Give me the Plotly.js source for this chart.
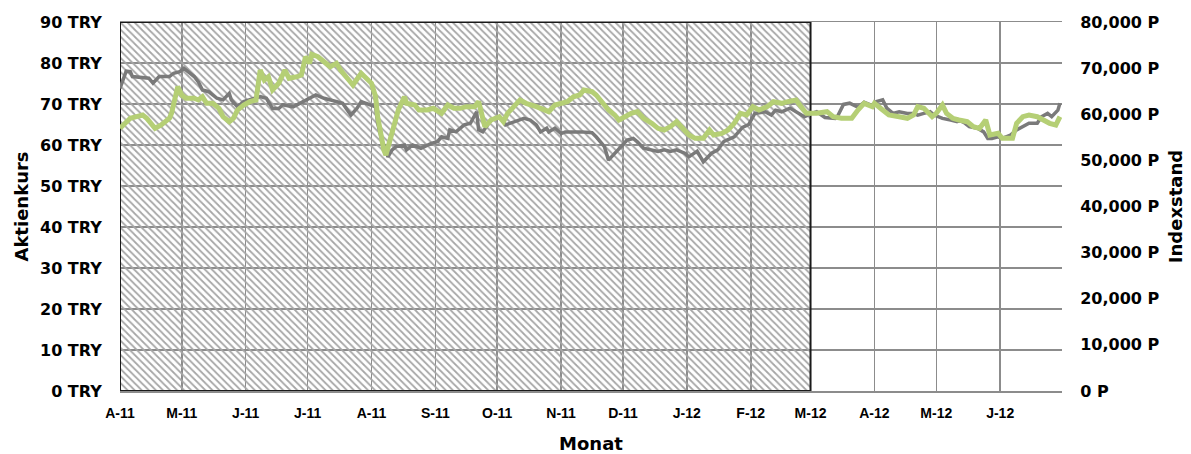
<!DOCTYPE html>
<html>
<head>
<meta charset="utf-8">
<script src="https://cdn.plot.ly/plotly-3.0.1.min.js"></script>
<style>html,body{margin:0;padding:0;background:#fff;}#chart{width:1191px;height:454px;}</style>
</head>
<body>
<div id="chart"></div>
<script>
// Month ticks and labels
const monthTicks = ['2011-04-01','2011-05-01','2011-06-01','2011-07-01','2011-08-01','2011-09-01','2011-10-01','2011-11-01','2011-12-01','2012-01-01','2012-02-01','2012-03-01','2012-04-01','2012-05-01','2012-06-01'];
const monthLabels = ['A-11','M-11','J-11','J-11','A-11','S-11','O-11','N-11','D-11','J-12','F-12','M-12','A-12','M-12','J-12'];

// Hatched period
const hatchStart = '2011-04-01';
const hatchEnd = '2012-03-01';

// Aktienkurs (TRY) - grey line, left axis
const kursDates = ['2011-04-01','2011-04-04','2011-04-06','2011-04-07','2011-04-15','2011-04-17','2011-04-20','2011-04-25','2011-04-27','2011-04-30',
'2011-05-02','2011-05-04','2011-05-07','2011-05-09','2011-05-11','2011-05-14','2011-05-16','2011-05-18','2011-05-21','2011-05-24','2011-05-25','2011-05-28','2011-05-31',
'2011-06-03','2011-06-08','2011-06-11','2011-06-14','2011-06-17','2011-06-19','2011-06-24','2011-06-29',
'2011-07-02','2011-07-05','2011-07-09','2011-07-12','2011-07-15','2011-07-18','2011-07-22','2011-07-25','2011-07-27',
'2011-08-01','2011-08-03','2011-08-04','2011-08-06','2011-08-08','2011-08-09','2011-08-11','2011-08-13','2011-08-17','2011-08-18','2011-08-21','2011-08-25','2011-08-30',
'2011-09-02','2011-09-04','2011-09-07','2011-09-08','2011-09-11','2011-09-15','2011-09-18','2011-09-21','2011-09-22','2011-09-24','2011-09-28',
'2011-10-02','2011-10-03','2011-10-05','2011-10-09','2011-10-14','2011-10-17','2011-10-20','2011-10-22','2011-10-25','2011-10-26','2011-10-29',
'2011-11-01','2011-11-03','2011-11-11','2011-11-16','2011-11-18','2011-11-22','2011-11-24','2011-11-27','2011-11-30',
'2011-12-03','2011-12-06','2011-12-08','2011-12-11','2011-12-15','2011-12-18','2011-12-21','2011-12-24','2011-12-27','2011-12-31',
'2012-01-02','2012-01-06','2012-01-09','2012-01-13','2012-01-16','2012-01-19','2012-01-24','2012-01-28','2012-01-31',
'2012-02-03','2012-02-08','2012-02-11','2012-02-13','2012-02-16','2012-02-20','2012-02-23','2012-02-27',
'2012-03-01','2012-03-04','2012-03-08','2012-03-13','2012-03-14','2012-03-17','2012-03-20','2012-03-24','2012-03-27','2012-03-31',
'2012-04-02','2012-04-05','2012-04-07','2012-04-10','2012-04-13','2012-04-17','2012-04-20','2012-04-22','2012-04-25','2012-04-28','2012-04-30',
'2012-05-04','2012-05-08','2012-05-11','2012-05-12','2012-05-15','2012-05-17','2012-05-21','2012-05-24','2012-05-26','2012-05-28','2012-05-31',
'2012-06-02','2012-06-06','2012-06-09','2012-06-12','2012-06-15','2012-06-19','2012-06-21','2012-06-24','2012-06-26','2012-06-29','2012-06-30'];
const kursValues = [73.8,78.0,77.9,76.7,76.3,75.1,76.7,76.7,77.5,77.9,
78.7,77.9,76.7,75.4,73.4,73.0,72.2,71.4,71.0,72.6,71.0,69.3,70.6,
71.0,71.8,71.4,68.9,68.9,69.8,69.3,70.6,
71.2,72.2,71.4,71.0,70.6,70.2,67.3,69.0,70.6,
69.8,69.3,65.3,61.2,58.8,57.1,58.8,59.6,60.0,58.8,60.0,59.2,60.4,
60.8,62.0,61.6,63.7,63.2,64.9,65.3,68.1,63.7,63.2,66.1,
66.9,66.5,64.9,65.7,66.5,66.1,64.9,63.2,64.1,63.2,64.1,
62.8,63.2,63.2,63.0,62.0,59.6,56.3,58.0,59.6,
61.2,61.6,60.8,59.2,58.8,58.4,58.8,58.4,58.8,58.0,
57.1,58.5,55.9,58.0,58.8,60.9,62.0,64.3,65.0,
67.7,68.1,67.3,68.5,68.1,69.0,68.1,66.9,
67.6,68.1,66.7,66.5,66.9,69.9,70.2,69.2,70.4,69.6,
70.6,71.0,69.0,67.7,68.1,67.7,67.7,67.3,67.7,68.1,67.3,
66.5,66.1,65.7,66.1,65.3,64.5,64.1,63.2,61.6,61.6,62.0,
61.6,62.4,63.7,64.5,65.3,65.3,66.9,67.7,66.9,68.5,70.2];

// Indexstand (P) - green line, right axis
const indexDates = ['2011-04-01','2011-04-06','2011-04-09','2011-04-12','2011-04-14','2011-04-18','2011-04-21','2011-04-25','2011-04-26','2011-04-29',
'2011-05-01','2011-05-03','2011-05-07','2011-05-09','2011-05-11','2011-05-13','2011-05-16','2011-05-19','2011-05-21','2011-05-24','2011-05-26','2011-05-28','2011-05-31',
'2011-06-03','2011-06-06','2011-06-08','2011-06-10','2011-06-12','2011-06-14','2011-06-17','2011-06-20','2011-06-22','2011-06-26','2011-06-28','2011-06-30',
'2011-07-02','2011-07-03','2011-07-06','2011-07-09','2011-07-12','2011-07-15','2011-07-17','2011-07-21','2011-07-23','2011-07-27','2011-07-29',
'2011-08-01','2011-08-03','2011-08-04','2011-08-07','2011-08-08','2011-08-10','2011-08-12','2011-08-14','2011-08-17','2011-08-18','2011-08-22','2011-08-24','2011-08-28','2011-08-31',
'2011-09-04','2011-09-07','2011-09-10','2011-09-13','2011-09-16','2011-09-20','2011-09-22','2011-09-25','2011-09-28',
'2011-10-02','2011-10-04','2011-10-06','2011-10-12','2011-10-15','2011-10-20','2011-10-24','2011-10-26','2011-10-29',
'2011-11-01','2011-11-04','2011-11-07','2011-11-10','2011-11-12','2011-11-16','2011-11-18','2011-11-22','2011-11-24','2011-11-27','2011-11-29',
'2011-12-02','2011-12-05','2011-12-08','2011-12-11','2011-12-15','2011-12-18','2011-12-21','2011-12-24','2011-12-27','2011-12-31',
'2012-01-02','2012-01-05','2012-01-09','2012-01-12','2012-01-14','2012-01-18','2012-01-21','2012-01-24','2012-01-27','2012-01-30',
'2012-02-02','2012-02-05','2012-02-09','2012-02-12','2012-02-16','2012-02-19','2012-02-23','2012-02-26','2012-02-28',
'2012-03-01','2012-03-04','2012-03-09','2012-03-12','2012-03-16','2012-03-21','2012-03-24','2012-03-27','2012-03-31',
'2012-04-01','2012-04-05','2012-04-08','2012-04-13','2012-04-17','2012-04-20','2012-04-22','2012-04-25','2012-04-29',
'2012-05-01','2012-05-04','2012-05-06','2012-05-09','2012-05-12','2012-05-16','2012-05-19','2012-05-22','2012-05-25','2012-05-27','2012-05-31',
'2012-06-02','2012-06-07','2012-06-09','2012-06-12','2012-06-15','2012-06-19','2012-06-22','2012-06-25','2012-06-28','2012-06-30'];
const indexValues = [56950,59120,59470,59840,59120,56950,57670,59120,60200,65970,
64170,63460,63460,63090,63800,62370,62370,61290,59470,58390,59120,60920,62000,
62720,63090,69590,67420,68140,65260,66710,69590,67790,68140,68510,72480,
71050,73000,72480,71390,70310,71050,69590,67420,66340,68880,68140,
66710,63800,59470,52250,51160,54420,58040,60920,63800,62370,62000,60920,60920,61290,
60200,62000,61290,61290,61640,61640,62720,57300,58750,
59470,58390,60200,63090,62370,61640,60920,60560,62000,
62370,62720,63800,64170,65260,64890,64170,62000,60920,59840,58750,
59470,60200,60560,59120,58040,56950,56590,57300,58390,56590,
55500,54780,54780,56590,55500,55860,56590,58040,60200,59840,
61640,60920,61640,62720,62370,62720,63090,61290,60200,
60200,60200,60560,59470,59120,59120,60920,62370,61640,
62370,60920,59840,59470,59120,59840,61640,61290,59470,
60200,62000,60200,59120,58750,58390,57300,56950,58750,55500,55860,
54780,54780,58040,59470,59840,59470,58750,58040,57670,59470];

const yTicksLeft = [0,10,20,30,40,50,60,70,80,90];

const gridColor = '#8c8c8c';
const fontFam = 'DejaVu Sans, Verdana, sans-serif';

const hatch = {
  x: [hatchStart, hatchEnd, hatchEnd, hatchStart, hatchStart],
  y: [yTicksLeft[0], yTicksLeft[0], yTicksLeft[yTicksLeft.length-1], yTicksLeft[yTicksLeft.length-1], yTicksLeft[0]],
  type: 'scatter', mode: 'lines', fill: 'toself',
  fillcolor: 'rgba(0,0,0,0)',
  fillpattern: {shape: '\\', fgcolor: '#a6a6a6', bgcolor: 'rgba(0,0,0,0)', size: 5, solidity: 0.35},
  line: {color: '#1a1a1a', width: 2},
  hoverinfo: 'skip', showlegend: false, cliponaxis: false
};

const indexTrace = {
  x: indexDates, y: indexValues, yaxis: 'y2', type: 'scatter', mode: 'lines',
  line: {color: '#b5cf75', width: 5}, name: 'Indexstand', showlegend: false
};
const kursTrace = {
  x: kursDates, y: kursValues, yaxis: 'y', type: 'scatter', mode: 'lines',
  line: {color: '#7a7a7a', width: 3.5}, name: 'Aktienkurs', showlegend: false
};

const layout = {
  width: 1191, height: 454,
  margin: {l: 120, r: 129, t: 22, b: 63},
  paper_bgcolor: '#fff', plot_bgcolor: '#fff',
  showlegend: false,
  xaxis: {
    type: 'date', range: ['2011-04-01', '2012-07-01'],
    tickmode: 'array', tickvals: monthTicks, ticktext: monthLabels,
    showgrid: true, gridcolor: gridColor, gridwidth: 1.5,
    showline: true, mirror: true, linecolor: gridColor, linewidth: 1.5,
    ticks: 'outside', ticklen: 9, tickcolor: 'rgba(0,0,0,0)',
    tickfont: {family: 'Liberation Sans, Arial, sans-serif', size: 14, color: '#000', weight: 'bold'},
    title: {text: '<b>Monat</b>', font: {family: fontFam, size: 18, color: '#000'}, standoff: 20},
    zeroline: false
  },
  yaxis: {
    range: [0, 90], tickmode: 'array', tickvals: yTicksLeft, ticktext: yTicksLeft.map(v => v + ' TRY'),
    showgrid: true, gridcolor: gridColor, gridwidth: 1.5, zeroline: false,
    showline: false,
    ticks: 'outside', ticklen: 14, tickcolor: 'rgba(0,0,0,0)',
    tickfont: {family: fontFam, size: 16, color: '#000', weight: 'bold'},
    title: {text: '<b>Aktienkurs</b>', font: {family: fontFam, size: 18, color: '#000'}, standoff: 6}
  },
  yaxis2: {
    overlaying: 'y', side: 'right', range: [0, 80000], dtick: 10000,
    tickformat: ',d', ticksuffix: ' P',
    showgrid: false, zeroline: false, showline: false,
    ticks: 'outside', ticklen: 14, tickcolor: 'rgba(0,0,0,0)',
    tickfont: {family: fontFam, size: 16, color: '#000', weight: 'bold'},
    title: {text: '<b>Indexstand</b>', font: {family: fontFam, size: 18, color: '#000'}, standoff: 10}
  }
};

Plotly.newPlot('chart', [hatch, indexTrace, kursTrace], layout, {displayModeBar: false, staticPlot: true});
</script>
</body>
</html>
